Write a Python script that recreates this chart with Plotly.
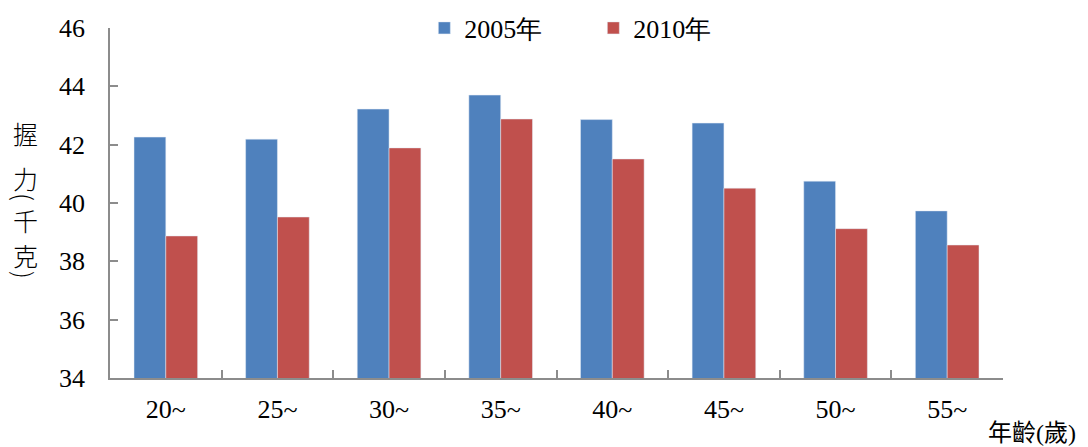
import plotly.graph_objects as go

# age groups and grip strength (kg)
ages = ["20~", "25~", "30~", "35~", "40~", "45~", "50~", "55~"]
grip_2005 = [42.26, 42.19, 43.22, 43.70, 42.86, 42.74, 40.75, 39.73]
grip_2010 = [38.87, 39.52, 41.89, 42.88, 41.51, 40.51, 39.12, 38.56]

SERIF = "Times New Roman, Liberation Serif, serif"
CJK = "Noto Sans CJK TC"
AXIS_GREY = "#8c8c8c"

# the page body has an 8px margin, so the figure is drawn 8px smaller
PAGE_PAD = 8
W, H = 1088 - PAGE_PAD, 447 - PAGE_PAD
L, T = 110 - PAGE_PAD, 28 - PAGE_PAD
PW, PH = 893, 350

fig = go.Figure()
fig.add_trace(go.Bar(x=ages, y=grip_2005, name="2005年", marker_color="#4F81BD"))
fig.add_trace(go.Bar(x=ages, y=grip_2010, name="2010年", marker_color="#C0504D"))

fig.update_layout(
    width=W,
    height=H,
    margin=dict(l=L, r=W - L - PW, t=T, b=H - T - PH, autoexpand=False),
    plot_bgcolor="white",
    paper_bgcolor="white",
    barmode="group",
    bargap=0.43,
    bargroupgap=0,
    font=dict(family=SERIF, size=26, color="black"),
    legend=dict(
        orientation="h",
        x=0.352, xanchor="left",
        y=1.0, yanchor="middle",
        font=dict(family=SERIF, size=26),
        itemwidth=30,
        entrywidth=124,
        entrywidthmode="pixels",
        bgcolor="rgba(0,0,0,0)",
    ),
    showlegend=True,
)

fig.update_yaxes(
    range=[34, 46],
    dtick=2,
    showgrid=False,
    zeroline=False,
    showline=True,
    linecolor=AXIS_GREY,
    linewidth=1.5,
    ticks="inside",
    ticklen=8,
    tickcolor=AXIS_GREY,
    tickwidth=1.5,
    ticklabelstandoff=18,
    tickfont=dict(family=SERIF, size=26),
)
fig.update_xaxes(
    showgrid=False,
    showline=True,
    linecolor=AXIS_GREY,
    linewidth=1.5,
    ticks="inside",
    ticklen=8,
    tickcolor=AXIS_GREY,
    tickwidth=1.5,
    tickson="boundaries",
    ticklabelstandoff=7,
    tickfont=dict(family=SERIF, size=26),
)

# vertical y-axis title, one glyph per annotation (pixel centres in the screenshot)
title_glyphs = [("握", 133, 0), ("力", 178, 0), ("(", 197, 90), ("千", 220, 0), ("克", 255, 0), (")", 275, 90)]
for ch, yc, ang in title_glyphs:
    fig.add_annotation(
        text=ch,
        xref="paper", yref="paper",
        x=(25 - 110) / PW, y=1 - (yc - 28) / PH,
        xanchor="center", yanchor="middle",
        textangle=ang,
        showarrow=False,
        font=dict(family=CJK, size=25, color="black", weight=300),
    )

# x-axis title at bottom right
fig.add_annotation(
    text="年齡(歲)",
    xref="paper", yref="paper",
    x=(986 - 110) / PW, y=-(433 - 378) / PH,
    xanchor="left", yanchor="middle",
    showarrow=False,
    font=dict(family=SERIF + ", " + CJK, size=24, color="black"),
)

fig.write_html("out.html")
